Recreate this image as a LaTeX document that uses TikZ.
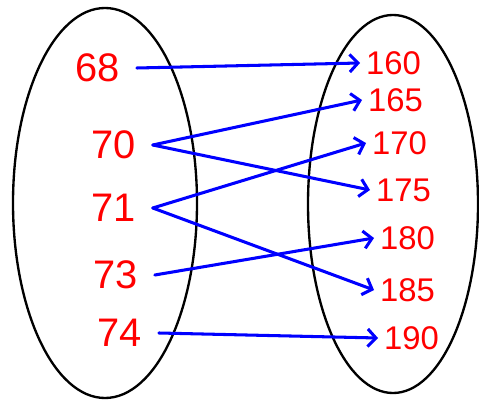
\documentclass[tikz,border=0pt]{standalone}
\usepackage{fontspec}
\setmainfont{Liberation Sans}
\usetikzlibrary{arrows.meta}

\def\punkt#1#2{ ({0.03*(#1)},{-0.03*(#2)}) }
\tikzset{
	links/.style={text=red, font=\fontsize{34}{34}\selectfont, inner xsep=14pt, inner ysep=6pt},
	rechts/.style={text=red, font=\fontsize{28}{28}\selectfont, anchor=west, inner sep=5pt},
	pfeil/.style={->, draw=blue, line width=2.6pt, line cap=round},
}

\begin{document}
\begin{tikzpicture}[>={Straight Barb[length=7pt,width=15pt]}]
\useasboundingbox \punkt{0}{0} rectangle \punkt{479}{401};
% Mengen
\draw[line width=2pt] \punkt{105}{203} ellipse[x radius=2.76, y radius=5.85];
\draw[line width=2pt] \punkt{393}{204} ellipse[x radius=2.55, y radius=5.67];
% Elemente links
\node[links] (a68) at \punkt{98}{68} {68};
\node[links] (a70) at \punkt{114}{145} {70};
\node[links] (a71) at \punkt{114}{208} {71};
\node[links] (a73) at \punkt{116}{275} {73};
\node[links] (a74) at \punkt{120}{333} {74};
% Elemente rechts
\node[rechts] (b160) at \punkt{360}{63} {160};
\node[rechts] (b165) at \punkt{362}{100} {165};
\node[rechts] (b170) at \punkt{366}{143} {170};
\node[rechts] (b175) at \punkt{370}{190} {175};
\node[rechts] (b180) at \punkt{374}{238} {180};
\node[rechts] (b185) at \punkt{374}{290} {185};
\node[rechts] (b190) at \punkt{378}{338} {190};
% Zuordnung
\foreach \a/\b in {68/160,70/165,70/175,71/170,71/185,73/180,74/190}{
	\draw[pfeil] (a\a.east) -- (b\b.west);
}
\end{tikzpicture}
\end{document}
